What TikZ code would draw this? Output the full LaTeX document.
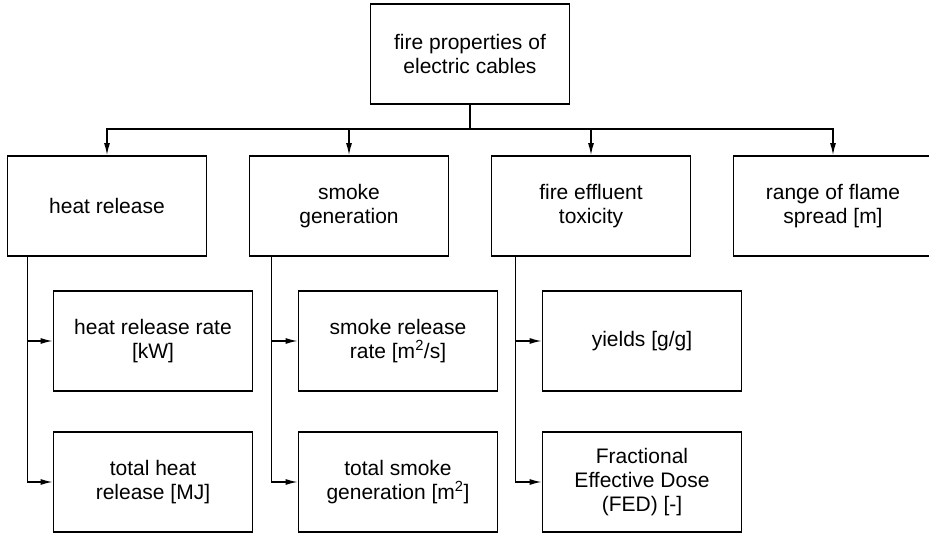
\documentclass[tikz,border=0pt]{standalone}
\usepackage{fontspec}
\setmainfont{Liberation Sans}
\usetikzlibrary{arrows.meta}

\begin{document}
\begin{tikzpicture}[
  x = 1pt,
  y = -1pt,
  line width = 1.3pt,
  > = {Latex[length = 12pt, width = 6pt]},
  property/.style = {draw, line width = 1.8pt, minimum width = 199pt,
    minimum height = 100pt, inner sep = 0pt, align = center,
    font = \fontsize{21}{24}\selectfont},
  ]

  \useasboundingbox (0, 0) rectangle (929, 534);

  \node at (470, 54)
  [property, name = Cables] {fire properties of\\electric cables};

  \node at (107, 206)
  [property, name = Heat] {heat release};

  \node at (349, 206)
  [property, name = Smoke] {smoke\\generation};

  \node at (591, 206)
  [property, name = Toxicity] {fire effluent\\toxicity};

  \node at (833, 206)
  [property, name = Flame] {range of flame\\spread [m]};

  \node at (153, 341)
  [property, name = HRR] {heat release rate\\{}[kW]};

  \node at (153, 482)
  [property, name = THR] {total heat\\release [MJ]};

  \node at (398, 341)
  [property, name = SRR] {smoke release\\rate [m\textsuperscript{2}/s]};

  \node at (398, 482)
  [property, name = TSG] {total smoke\\generation [m\textsuperscript{2}]};

  \node at (642, 341)
  [property, name = Yields] {yields [g/g]};

  \node at (642, 482)
  [property, name = FED] {Fractional\\Effective Dose\\(FED) [-]};

  \coordinate (Split) at (470, 129);

  \draw (Cables) -- (Split);

  \draw [->] (Split) -| (Heat.north);

  \draw [->] (Split) -| (Smoke.north);

  \draw [->] (Split) -| (Toxicity.north);

  \draw [->] (Split) -| (Flame.north);

  \draw [->] ([xshift = 21pt]Heat.south west) |- (HRR.west);

  \draw [->] ([xshift = 21pt]Heat.south west) |- (THR.west);

  \draw [->] ([xshift = 23pt]Smoke.south west) |- (SRR.west);

  \draw [->] ([xshift = 23pt]Smoke.south west) |- (TSG.west);

  \draw [->] ([xshift = 25pt]Toxicity.south west) |- (Yields.west);

  \draw [->] ([xshift = 25pt]Toxicity.south west) |- (FED.west);

\end{tikzpicture}
\end{document}
